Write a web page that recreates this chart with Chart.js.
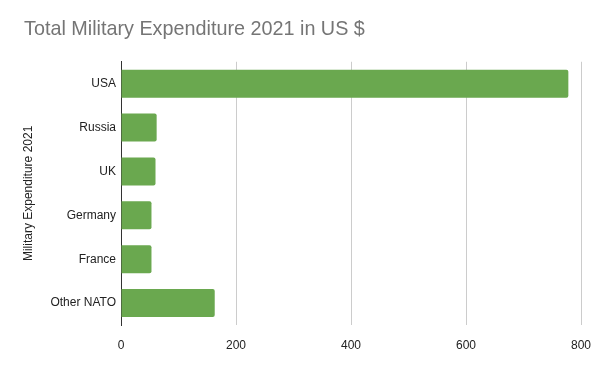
<!DOCTYPE html>
<html>
<head>
<meta charset="utf-8">
<script src="https://cdn.jsdelivr.net/npm/chart.js@4/dist/chart.umd.min.js"></script>
<style>
  html, body { margin: 0; padding: 0; background: #fff; }
  #wrap { width: 600px; height: 371px; }
</style>
</head>
<body>
<div id="wrap"><canvas id="milChart"></canvas></div>
<script>
const countries = ["USA", "Russia", "UK", "Germany", "France", "Other NATO"];
const spending = [778, 62, 60, 53, 53, 163];
const xTicks = [0, 200, 400, 600, 800];

const ctx = document.getElementById("milChart").getContext("2d");

new Chart(ctx, {
  type: "bar",
  data: {
    labels: countries,
    datasets: [
      {
        label: "Military Expenditure 2021",
        data: spending,
        backgroundColor: "#6aa84f",
        borderRadius: 2,
        borderSkipped: "start",
        categoryPercentage: 1,
        barPercentage: 0.64,
      },
    ],
  },
  options: {
    indexAxis: "y",
    responsive: true,
    maintainAspectRatio: false,
    animation: false,
    layout: { padding: { left: 24, right: 19, top: 0, bottom: 0 } },
    plugins: {
      legend: { display: false },
      tooltip: { enabled: false },
      title: {
        display: true,
        text: "Total Military Expenditure 2021 in US $",
        align: "start",
        color: "#757575",
        font: { family: "Liberation Sans, Arial, sans-serif", size: 19.8, weight: "normal" },
        padding: { top: 18, bottom: 20 },
      },
    },
    scales: {
      x: {
        min: xTicks[0],
        max: xTicks[xTicks.length - 1],
        afterBuildTicks: (axis) => {
          axis.ticks = xTicks.map((v) => ({ value: v }));
        },
        afterFit: (axis) => {
          axis.height = 46;
          axis.paddingRight = 0;
          axis.paddingLeft = 0;
        },
        grid: {
          color: (c) => (c.tick && c.tick.value === 0 ? "rgba(0,0,0,0)" : "#cccccc"),
          drawTicks: false,
        },
        border: { display: false },
        ticks: {
          color: "#222222",
          padding: 13,
          font: { family: "Liberation Sans, Arial, sans-serif", size: 12 },
        },
      },
      y: {
        afterFit: (axis) => {
          axis.width = 97;
        },
        grid: { display: false, drawTicks: false },
        border: { display: true, color: "#333333", width: 1 },
        ticks: {
          color: "#222222",
          padding: 5,
          font: { family: "Liberation Sans, Arial, sans-serif", size: 12 },
        },
        title: {
          display: true,
          text: "Military Expenditure 2021",
          color: "#222222",
          font: { family: "Liberation Sans, Arial, sans-serif", size: 12 },
          padding: { top: -3, bottom: 3 },
        },
      },
    },
  },
});
</script>
</body>
</html>
